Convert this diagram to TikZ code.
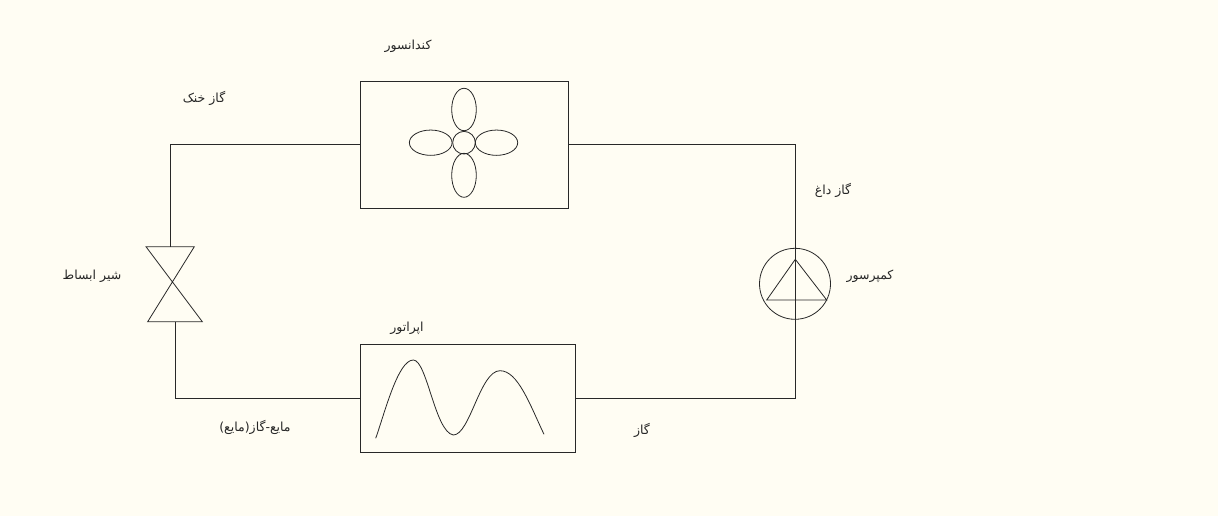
\documentclass[tikz,border=0pt]{standalone}
\usepackage{fontspec}
\usetikzlibrary{shapes.geometric}
\TeXXeTstate=1
\newfontfamily\arabicfont[Script=Arabic]{DejaVu Sans}
\definecolor{paper}{RGB}{255,253,243}
\definecolor{wire}{RGB}{40,40,40}
\begin{document}
\begin{tikzpicture}[
  x=1pt, y=-1pt,
  line width=1pt,
  every path/.style={draw=wire},
  unit/.style={draw=wire, rectangle, inner sep=0pt, outer sep=0pt},
  blade/.style={draw=wire, ellipse, line width=0.8pt, inner sep=0pt, outer sep=0pt},
  hub/.style={draw=wire, circle, line width=0.8pt, inner sep=0pt, outer sep=0pt, minimum size=22.6pt},
  lbl/.style={font=\arabicfont\fontsize{12.5}{14}\selectfont, text=black!85, inner sep=0pt}
]
\useasboundingbox[fill=paper, draw=none] (0,0) rectangle (1218,516);

% units
\node[unit, minimum width=208pt, minimum height=126pt] (cond) at (464,145) {};
\node[unit, minimum width=215pt, minimum height=108pt] (evap) at (467.5,398) {};

% fan
\node[hub] (fanhub) at (464,142.7) {};
\node[blade, minimum width=24.6pt, minimum height=42.4pt] (fantop) at (464,109.5) {};
\node[blade, minimum width=24.6pt, minimum height=44pt] (fanbot) at (464,175.3) {};
\node[blade, minimum width=42.7pt, minimum height=25.3pt] (fanleft) at (430.7,142.7) {};
\node[blade, minimum width=42.4pt, minimum height=25.3pt] (fanright) at (496.5,142.7) {};

% coil
\draw[line width=0.8pt] (375.7,438.3) .. controls (385,412) and (398,360) .. (413.3,360)
  .. controls (427,360) and (435,432) .. (453.3,435)
  .. controls (470,435) and (480,370.7) .. (500,370.7)
  .. controls (518,370.7) and (530,405) .. (544,434.3);

% valve
\coordinate (valvetop) at (170.5,246.7);
\coordinate (valvebot) at (175,321.7);
\draw[line width=0.8pt] (146,246.7) -- (194.3,246.7) -- (147.7,321.7) -- (202.3,321.7) -- cycle;

% compressor
\node[draw=wire, circle, line width=0.8pt, inner sep=0pt, minimum size=71pt] (comp) at (795,283.8) {};
\coordinate (compin) at (795.3,319.3);
\coordinate (compout) at (795.3,248.3);
\draw[line width=0.8pt] (795.3,259.3) -- (826.7,300) -- (766.7,300) -- cycle;

% corners
\coordinate (cornerA) at (170.5,145);
\coordinate (cornerB) at (175,398);
\coordinate (cornerC) at (795.3,398);
\coordinate (cornerD) at (795.3,145);

% pipes
\draw (cond.west) -- (cornerA) -- (valvetop);
\draw (valvebot) -- (cornerB) -- (evap.west);
\draw (evap.east) -- (cornerC) -- (compin);
\draw (compin) -- (compout);
\draw (compout) -- (cornerD) -- (cond.east);

% labels
\node[lbl] (condlbl) at (408,46) {\beginR کندانسور\endR};
\node[lbl] (coldlbl) at (204,98) {\beginR گاز خنک\endR};
\node[lbl] (valvelbl) at (92,276) {\beginR شیر ابساط\endR};
\node[lbl] (hotlbl) at (833,190) {\beginR گاز داغ\endR};
\node[lbl] (complbl) at (870,276) {\beginR کمپرسور\endR};
\node[lbl] (evaplbl) at (407,328) {\beginR اپراتور\endR};
\node[lbl] (mixlbl) at (255,427) {\beginR مایع-گاز(مایع)\endR};
\node[lbl] (gaslbl) at (642,430) {\beginR گاز\endR};
\end{tikzpicture}
\end{document}
